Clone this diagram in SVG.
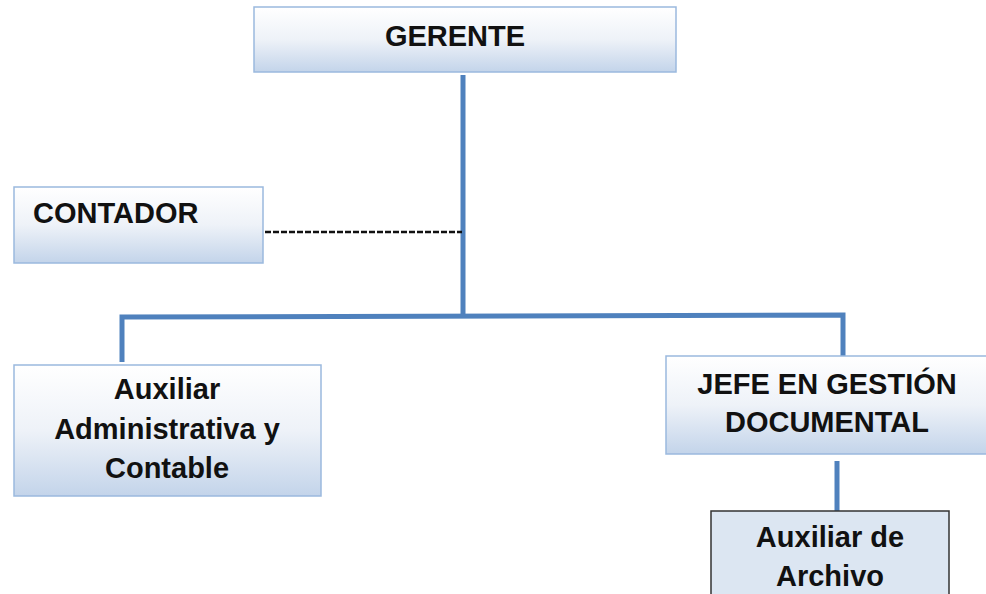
<svg xmlns="http://www.w3.org/2000/svg" width="986" height="594" viewBox="0 0 986 594">
<defs>
<linearGradient id="g" x1="0" y1="0" x2="0" y2="1">
<stop offset="0" stop-color="#ffffff"/>
<stop offset="0.5" stop-color="#eef2f8"/>
<stop offset="1" stop-color="#c3d4ea"/>
</linearGradient>
</defs>
<style>
.box{fill:url(#g);stroke:#9bb9de;stroke-width:1.5}
.t{font-family:"Liberation Sans",Arial,sans-serif;font-weight:bold;font-size:29px;fill:#111}
.c{text-anchor:middle}
.ln{stroke:#4f81bd;stroke-width:5;fill:none}
</style>
<rect width="986" height="594" fill="#ffffff"/>
<g id="connectors">
<line class="ln" x1="463" y1="75" x2="463" y2="318"/>
<polyline class="ln" points="122,362 122,317 843,315 843,356"/>
<line class="ln" x1="837" y1="461" x2="837" y2="512"/>
<line x1="265" y1="232" x2="462" y2="232" stroke="#111" stroke-width="2.5" stroke-dasharray="6,2"/>
</g>
<g id="gerente">
<rect class="box" x="254" y="7" width="422" height="65"/>
<text class="t c" x="455" y="46">GERENTE</text>
</g>
<g id="contador">
<rect class="box" x="14" y="187" width="249" height="76"/>
<text class="t" x="33" y="223">CONTADOR</text>
</g>
<g id="auxiliar-admin">
<rect class="box" x="14" y="365" width="307" height="131"/>
<text class="t c" x="167" y="399">Auxiliar</text>
<text class="t c" x="167" y="439">Administrativa y</text>
<text class="t c" x="167" y="478">Contable</text>
</g>
<g id="jefe">
<rect class="box" x="666" y="356" width="330" height="98"/>
<text class="t c" x="827" y="394">JEFE EN GESTIÓN</text>
<text class="t c" x="827" y="432">DOCUMENTAL</text>
</g>
<g id="auxiliar-archivo">
<rect x="711" y="511" width="238" height="100" fill="#dce6f2" stroke="#333" stroke-width="1.5"/>
<text class="t c" x="830" y="547">Auxiliar de</text>
<text class="t c" x="830" y="586">Archivo</text>
</g>
</svg>
